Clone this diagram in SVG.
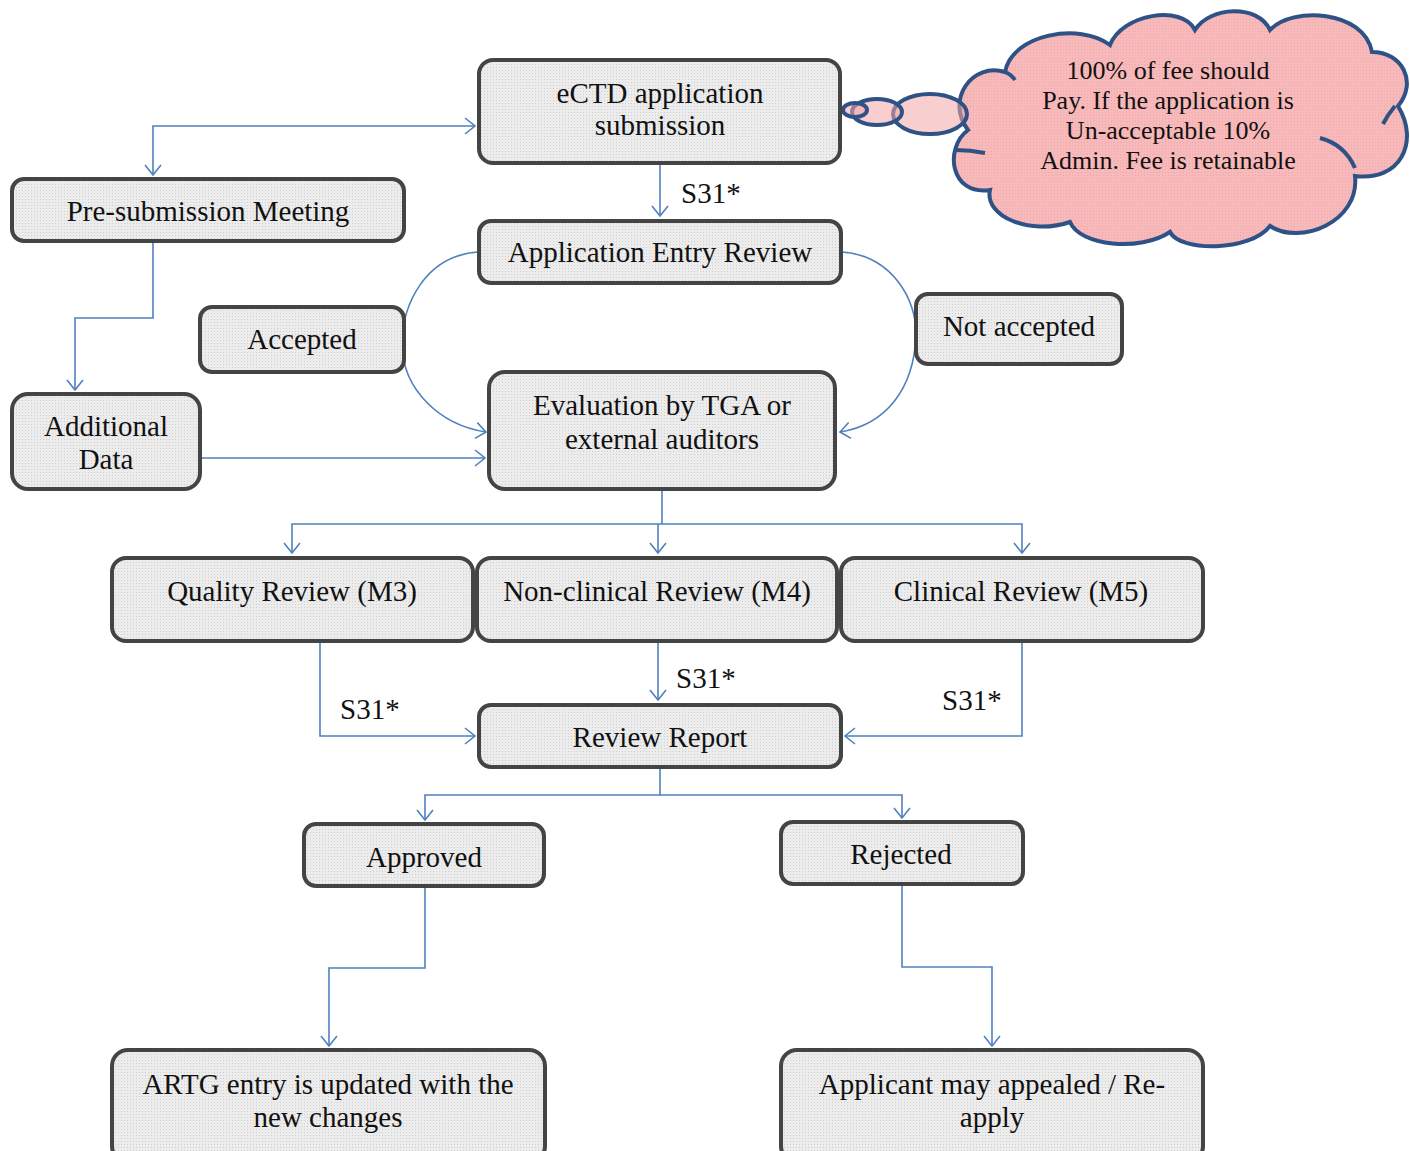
<svg xmlns="http://www.w3.org/2000/svg" width="1410" height="1151" viewBox="0 0 1410 1151">
<defs>
<pattern id="dots" width="3" height="3" patternUnits="userSpaceOnUse">
<rect width="3" height="3" fill="#ececec"/>
<rect x="1" y="1" width="1" height="1" fill="#cfcfcf"/>
</pattern>
<pattern id="pinkdots" width="3" height="3" patternUnits="userSpaceOnUse">
<rect width="3" height="3" fill="#f7b9b9"/>
<rect x="1" y="1" width="1" height="1" fill="#eea6a8"/>
</pattern>
<marker id="arr" viewBox="0 0 12 18" refX="11" refY="9" markerWidth="12" markerHeight="18" markerUnits="userSpaceOnUse" orient="auto-start-reverse">
<path d="M1,1 L11,9 L1,17" fill="none" stroke="#4f81bd" stroke-width="1.6"/>
</marker>
</defs>
<style>
.box{fill:url(#dots);stroke:#444;stroke-width:4}
.t{font-family:"Liberation Serif","Times New Roman",serif;font-size:29px;fill:#111;text-anchor:middle}
.lbl{font-family:"Liberation Serif","Times New Roman",serif;font-size:29px;fill:#111}
.ct{font-family:"Liberation Serif","Times New Roman",serif;font-size:26px;fill:#111;text-anchor:middle}
.c{fill:none;stroke:#4f81bd;stroke-width:1.6}
.cloud{fill:url(#pinkdots);stroke:#2e5286;stroke-width:4}
.bub{fill:#f2a5a8;fill-opacity:0.55;stroke:#2e5286;stroke-width:4}
</style>
<rect width="1410" height="1151" fill="#fff"/>

<g id="connectors">
<path class="c" d="M153,175 V126 H475" marker-start="url(#arr)" marker-end="url(#arr)"/>
<path class="c" d="M153,241 V318 H75 V390" marker-end="url(#arr)"/>
<path class="c" d="M660,165 V216" marker-end="url(#arr)"/>
<path class="c" d="M479,252 C425,255 402,305 402,345 C403,390 440,425 486,432" marker-end="url(#arr)"/>
<path class="c" d="M841,252 C892,255 917,300 916,335 C914,390 885,425 840,432" marker-end="url(#arr)"/>
<path class="c" d="M200,458 H485" marker-end="url(#arr)"/>
<path class="c" d="M662,489 V524"/>
<path class="c" d="M292,553 V524 H1022 V553" marker-start="url(#arr)" marker-end="url(#arr)"/>
<path class="c" d="M658,524 V553" marker-end="url(#arr)"/>
<path class="c" d="M320,641 V736 H475" marker-end="url(#arr)"/>
<path class="c" d="M658,641 V700" marker-end="url(#arr)"/>
<path class="c" d="M1022,641 V736 H845" marker-end="url(#arr)"/>
<path class="c" d="M660,767 V795"/>
<path class="c" d="M425,820 V795 H902 V818" marker-start="url(#arr)" marker-end="url(#arr)"/>
<path class="c" d="M425,886 V968 H329 V1046" marker-end="url(#arr)"/>
<path class="c" d="M902,884 V967 H992 V1046" marker-end="url(#arr)"/>
<text class="lbl" x="681" y="203">S31*</text>
<text class="lbl" x="676" y="688">S31*</text>
<text class="lbl" x="340" y="719">S31*</text>
<text class="lbl" x="942" y="710">S31*</text>
</g>

<g id="cloud">
<path class="cloud" d="M968,130 C945,100 972,62 1005,72 C1012,34 1080,22 1110,45 C1122,14 1182,4 1195,30 C1210,6 1258,4 1270,30 C1292,6 1364,10 1372,52 C1402,52 1418,82 1398,106 C1420,142 1400,182 1355,176 C1360,222 1300,246 1270,226 C1250,252 1180,252 1170,232 C1140,252 1080,246 1070,222 C1030,236 984,216 990,190 C950,196 944,148 968,130 Z"/>
<path d="M956,150 C965,150 975,151 985,153" fill="none" stroke="#2e5286" stroke-width="4"/>
<path d="M1320,138 C1335,142 1348,152 1355,168" fill="none" stroke="#2e5286" stroke-width="4"/>
<path d="M1005,72 C1010,74 1013,77 1015,80" fill="none" stroke="#2e5286" stroke-width="4"/>
<path d="M1395,106 C1390,112 1386,118 1383,124" fill="none" stroke="#2e5286" stroke-width="4"/>
<ellipse class="bub" cx="930" cy="114" rx="37" ry="20"/>
<ellipse class="bub" cx="877" cy="112" rx="25" ry="13"/>
<ellipse class="bub" cx="855" cy="110" rx="12" ry="7"/>
<text class="ct" x="1168" y="79">100% of fee should</text>
<text class="ct" x="1168" y="109">Pay. If the application is</text>
<text class="ct" x="1168" y="139">Un-acceptable 10%</text>
<text class="ct" x="1168" y="169">Admin. Fee is retainable</text>
</g>

<g id="n-ectd"><rect class="box" x="479" y="60" width="361" height="103" rx="14"/>
<text class="t" x="660" y="103">eCTD application</text><text class="t" x="660" y="135">submission</text></g>
<g id="n-entry"><rect class="box" x="479" y="221" width="362" height="62" rx="12"/>
<text class="t" x="660" y="262">Application Entry Review</text></g>
<g id="n-presub"><rect class="box" x="12" y="179" width="392" height="62" rx="12"/>
<text class="t" x="208" y="221">Pre-submission Meeting</text></g>
<g id="n-accepted"><rect class="box" x="200" y="307" width="204" height="65" rx="12"/>
<text class="t" x="302" y="349">Accepted</text></g>
<g id="n-notaccepted"><rect class="box" x="916" y="294" width="206" height="70" rx="12"/>
<text class="t" x="1019" y="336">Not accepted</text></g>
<g id="n-eval"><rect class="box" x="489" y="372" width="346" height="117" rx="16"/>
<text class="t" x="662" y="415">Evaluation by TGA or</text><text class="t" x="662" y="449">external auditors</text></g>
<g id="n-additional"><rect class="box" x="12" y="394" width="188" height="95" rx="16"/>
<text class="t" x="106" y="436">Additional</text><text class="t" x="106" y="469">Data</text></g>
<g id="n-quality"><rect class="box" x="112" y="558" width="361" height="83" rx="14"/>
<text class="t" x="292" y="601">Quality Review (M3)</text></g>
<g id="n-nonclinical"><rect class="box" x="477" y="558" width="360" height="83" rx="14"/>
<text class="t" x="657" y="601">Non-clinical Review (M4)</text></g>
<g id="n-clinical"><rect class="box" x="841" y="558" width="362" height="83" rx="14"/>
<text class="t" x="1021" y="601">Clinical Review (M5)</text></g>
<g id="n-report"><rect class="box" x="479" y="705" width="362" height="62" rx="12"/>
<text class="t" x="660" y="747">Review Report</text></g>
<g id="n-approved"><rect class="box" x="304" y="824" width="240" height="62" rx="12"/>
<text class="t" x="424" y="867">Approved</text></g>
<g id="n-rejected"><rect class="box" x="781" y="822" width="242" height="62" rx="12"/>
<text class="t" x="901" y="864">Rejected</text></g>
<g id="n-artg"><rect class="box" x="112" y="1050" width="433" height="112" rx="16"/>
<text class="t" x="328" y="1094">ARTG entry is updated with the</text><text class="t" x="328" y="1127">new changes</text></g>
<g id="n-applicant"><rect class="box" x="781" y="1050" width="422" height="112" rx="16"/>
<text class="t" x="992" y="1094">Applicant may appealed / Re-</text><text class="t" x="992" y="1127">apply</text></g>
</svg>
